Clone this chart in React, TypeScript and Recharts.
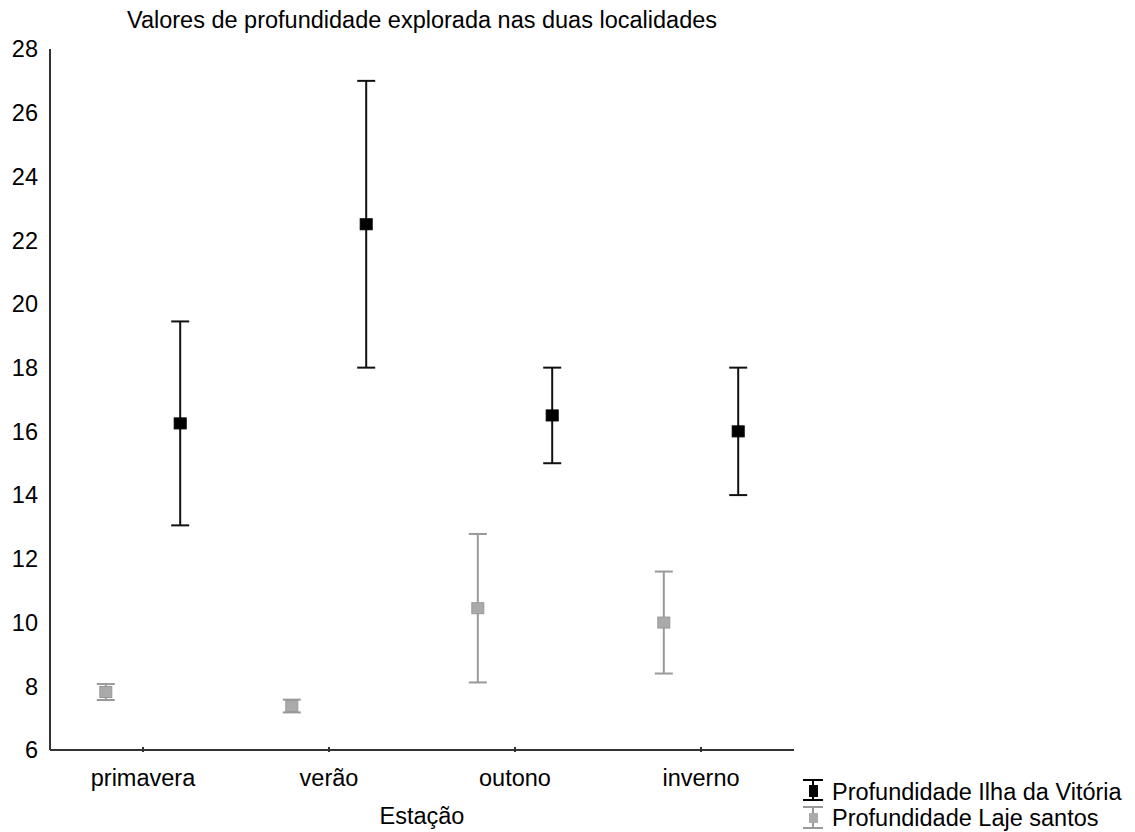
import React from "react"
import { ScatterChart, Scatter, XAxis, YAxis, ErrorBar, Legend } from "recharts"

const categories = ["primavera", "verão", "outono", "inverno"]

// média e meia-amplitude do intervalo, por estação
const ilhaMedia = [16.25, 22.5, 16.5, 16]
const ilhaErro = [3.2, 4.5, 1.5, 2]
const lajeMedia = [7.82, 7.38, 10.45, 10]
const lajeErro = [0.25, 0.2, 2.33, 1.6]

const yTicks = [6, 8, 10, 12, 14, 16, 18, 20, 22, 24, 26, 28]

const FONT = "'Liberation Sans', Arial, sans-serif"
const FONT_SIZE = 23.5
const AXIS_COLOR = "#333"
const ILHA_COLOR = "#000"
const LAJE_COLOR = "#999"
const LAJE_FILL = "#aaa"

// each season sits in a band of width 1, the two series are shifted to either side
const SHIFT = 0.2

const ilhaData = categories.map((c, i) => ({ x: i + 0.5 + SHIFT, y: ilhaMedia[i], err: ilhaErro[i], estacao: c }))
const lajeData = categories.map((c, i) => ({ x: i + 0.5 - SHIFT, y: lajeMedia[i], err: lajeErro[i], estacao: c }))

const squareShape = (fill: string, stroke: string) => (props: any) => (
  <rect x={props.cx - 6} y={props.cy - 5.5} width={12} height={11} fill={fill} stroke={stroke} strokeWidth={1} />
)

function SeasonTick(props: any) {
  const { x, y, payload } = props
  const label = categories[Math.floor(payload.value)]
  return (
    <g>
      <line x1={x} y1={y - 5} x2={x} y2={y} stroke={AXIS_COLOR} strokeWidth={2} />
      <text x={x} y={y + 34} textAnchor="middle" fill="#000" fontFamily={FONT} fontSize={FONT_SIZE}>
        {label}
      </text>
    </g>
  )
}

function LegendBox() {
  return (
    <svg width={335} height={58}>
      <g stroke={ILHA_COLOR} strokeWidth={2}>
        <line x1={3} y1={4} x2={23} y2={4} />
        <line x1={13} y1={4} x2={13} y2={24} />
        <line x1={3} y1={24} x2={23} y2={24} />
      </g>
      <rect x={9} y={9} width={9} height={12} fill={ILHA_COLOR} />
      <g stroke={LAJE_COLOR} strokeWidth={2}>
        <line x1={3} y1={31} x2={23} y2={31} />
        <line x1={13} y1={31} x2={13} y2={52} />
        <line x1={3} y1={52} x2={23} y2={52} />
      </g>
      <rect x={9} y={37} width={9} height={10} fill={LAJE_FILL} />
      <text x={32} y={24} fontFamily={FONT} fontSize={FONT_SIZE} fill="#000">
        Profundidade Ilha da Vitória
      </text>
      <text x={32} y={50} fontFamily={FONT} fontSize={FONT_SIZE} fill="#000">
        Profundidade Laje santos
      </text>
    </svg>
  )
}

export default function App() {
  return (
    <div style={{ position: "absolute", left: 0, top: 0, width: 1135, height: 832, background: "#fff" }}>
      <div
        style={{
          position: "absolute",
          left: 50,
          width: 744,
          top: 9,
          textAlign: "center",
          fontFamily: FONT,
          fontSize: FONT_SIZE,
          lineHeight: 1,
          color: "#000",
        }}
      >
        Valores de profundidade explorada nas duas localidades
      </div>
      <ScatterChart width={1135} height={832} margin={{ top: 49, right: 341, bottom: 0, left: 0 }}>
        <XAxis
          type="number"
          dataKey="x"
          domain={[0, 4]}
          ticks={[0.5, 1.5, 2.5, 3.5]}
          height={82}
          tickSize={0}
          tickLine={false}
          tick={<SeasonTick />}
          stroke={AXIS_COLOR}
          strokeWidth={2}
          label={{ value: "Estação", position: "insideBottom", offset: 8, fill: "#000", fontFamily: FONT, fontSize: FONT_SIZE }}
        />
        <YAxis
          type="number"
          dataKey="y"
          domain={[6, 28]}
          ticks={yTicks}
          width={50}
          tickSize={0}
          tickMargin={12}
          tickLine={false}
          stroke={AXIS_COLOR}
          strokeWidth={2}
          tick={{ fill: "#000", fontFamily: FONT, fontSize: FONT_SIZE }}
        />
        <Scatter
          name="Profundidade Laje santos"
          data={lajeData}
          shape={squareShape(LAJE_FILL, LAJE_COLOR)}
          isAnimationActive={false}
        >
          <ErrorBar dataKey="err" direction="y" width={9} stroke={LAJE_COLOR} strokeWidth={2} />
        </Scatter>
        <Scatter
          name="Profundidade Ilha da Vitória"
          data={ilhaData}
          shape={squareShape(ILHA_COLOR, ILHA_COLOR)}
          isAnimationActive={false}
        >
          <ErrorBar dataKey="err" direction="y" width={9} stroke="#111" strokeWidth={2} />
        </Scatter>
        <Legend
          layout="vertical"
          align="center"
          verticalAlign="middle"
          content={<LegendBox />}
          wrapperStyle={{ left: 800, top: 776, width: 335 }}
        />
      </ScatterChart>
    </div>
  )
}
